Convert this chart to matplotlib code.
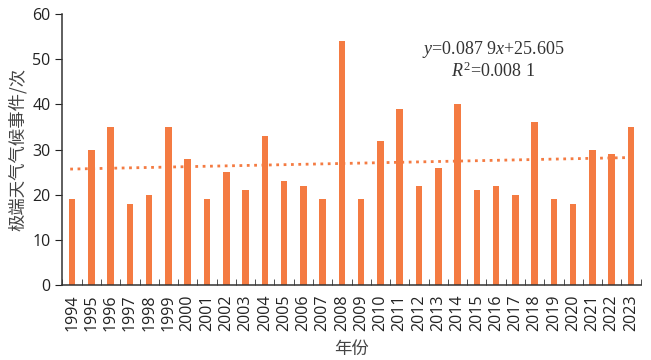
import numpy as np
import matplotlib.pyplot as plt

years = [str(y) for y in range(1994, 2024)]
counts = [19, 30, 35, 18, 20, 35, 28, 19, 25, 21, 33, 23, 22, 19, 54,
          19, 32, 39, 22, 26, 40, 21, 22, 20, 36, 19, 18, 30, 29, 35]
slope, intercept = 0.0879, 25.605

def main():
    plt.rcParams['font.family'] = ['Open Sans', 'Noto Sans CJK SC', 'DejaVu Sans']
    plt.rcParams['mathtext.fontset'] = 'custom'
    plt.rcParams['mathtext.rm'] = 'Liberation Serif'
    plt.rcParams['mathtext.it'] = 'Liberation Serif:italic'

    fig = plt.figure(figsize=(6.51, 3.6), dpi=100)
    ax = fig.add_axes([0.096, 0.208, 0.888, 0.753])

    color = '#F47B42'
    x = np.arange(len(years))
    ax.bar(x, counts, width=0.34, color=color, zorder=2)

    # linear trend (x = 1..n as in Excel)
    xt = np.array([x[0] - 0.1, x[-1] + 0.3])
    ax.plot(xt, slope * (xt + 1) + intercept, ':', color=color, lw=2, zorder=3)

    ax.set_xlim(-0.5, len(years) - 0.5)
    ax.set_ylim(0, 60)
    ax.set_yticks(range(0, 61, 10))
    ax.set_xticks(x)
    ax.set_xticklabels(years, rotation=90)
    ax.set_xticks(np.arange(-0.5, len(years), 1), minor=True)
    ax.tick_params(axis='x', which='major', length=0, pad=7, labelsize=11.5, colors='#222222')
    ax.tick_params(axis='x', which='minor', direction='in', length=4, color='#333333')
    ax.tick_params(axis='y', length=5, labelsize=11.5, colors='#222222')

    for s in ['top', 'right']:
        ax.spines[s].set_visible(False)
    for s in ['left', 'bottom']:
        ax.spines[s].set_color('#333333')
        ax.spines[s].set_linewidth(1.1)

    ax.set_ylabel('极端天气气候事件/次', fontsize=12.5, color='#444444',
                  family=['Noto Sans CJK SC'], labelpad=4)
    ax.set_xlabel('年份', fontsize=12.5, color='#444444',
                  family=['Noto Sans CJK SC'], labelpad=6)

    ax.text(0.745, 0.87, '$y$=0.087 9$x$+25.605', transform=ax.transAxes,
            ha='center', va='center', fontsize=13, family='Liberation Serif', color='#333333')
    ax.text(0.745, 0.79, '$R^2$=0.008 1', transform=ax.transAxes,
            ha='center', va='center', fontsize=13, family='Liberation Serif', color='#333333')

    fig.savefig('out.png', dpi=100)

if __name__ == '__main__':
    main()
